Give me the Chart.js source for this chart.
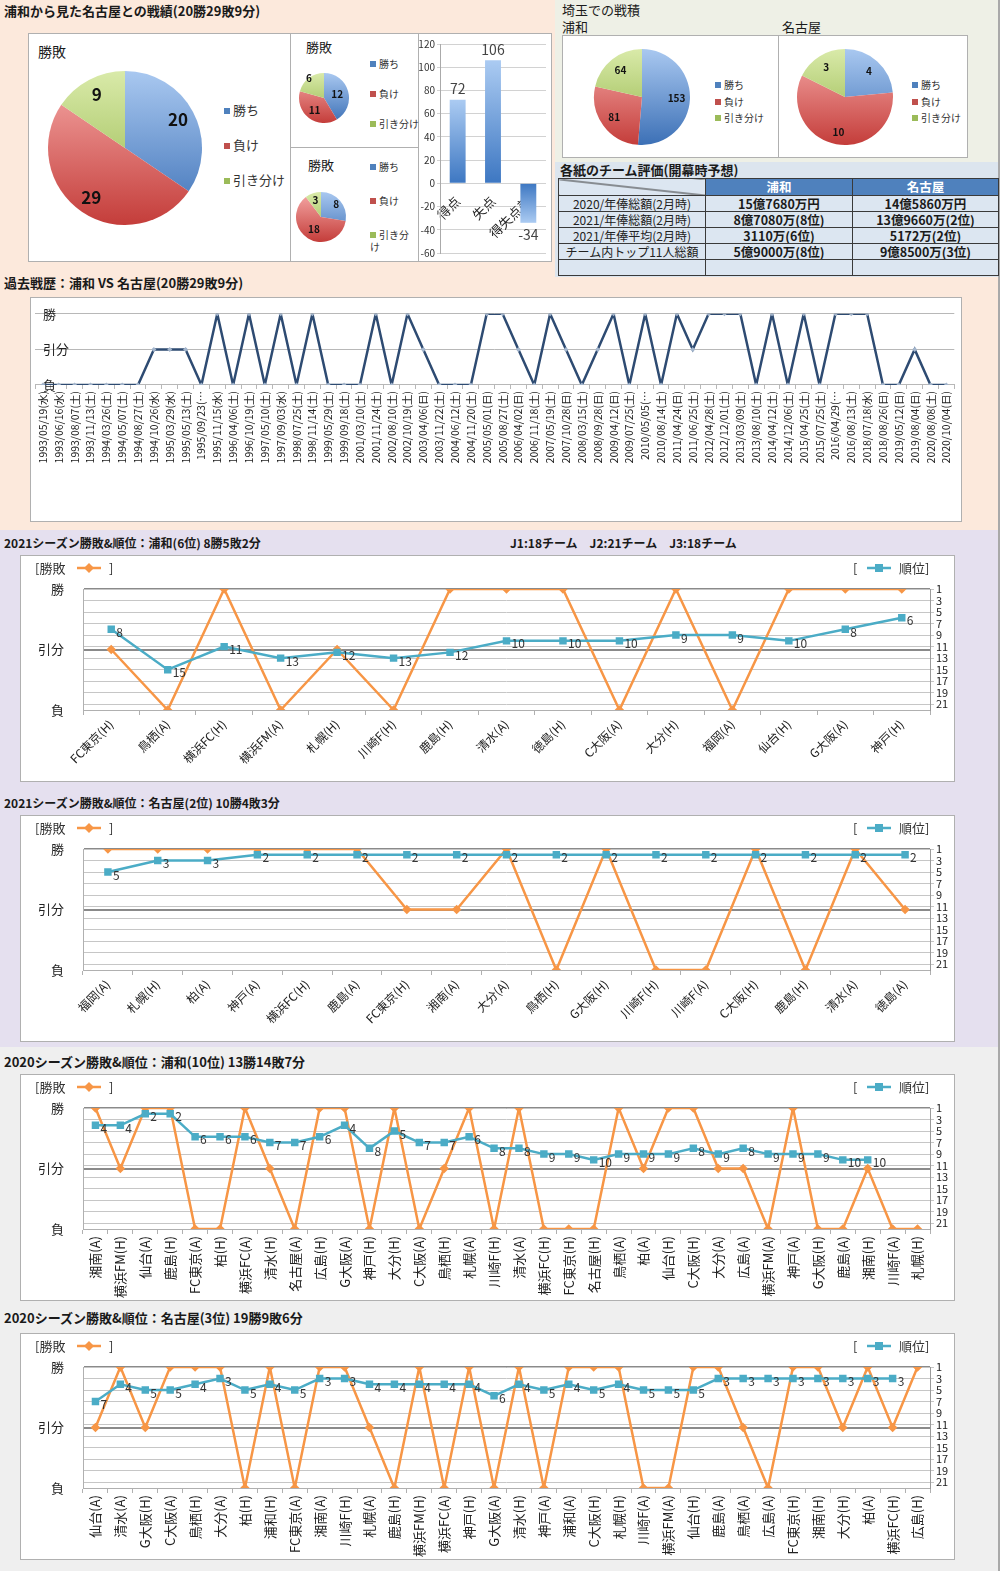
<!DOCTYPE html>
<html lang="ja">
<head>
<meta charset="utf-8">
<title>浦和 vs 名古屋 戦績</title>
<script src="https://cdn.jsdelivr.net/npm/chart.js@4.4.1/dist/chart.umd.min.js"></script>
<style>
body{margin:0;width:1000px;height:1571px;position:relative;overflow:hidden;font-family:"Noto Sans CJK JP",sans-serif;color:#1a1a1a;}
.sec{position:absolute;left:0;width:998px;border-right:2px solid #a9a9a9;}
.box{position:absolute;background:#fff;border:1px solid #b0b0b0;box-sizing:border-box;}
canvas{position:absolute;}
.t{position:absolute;white-space:pre;line-height:16px;font-size:13px;}
.b{font-weight:bold;}
.lg{position:absolute;white-space:nowrap;font-size:10px;line-height:12px;color:#333;}
.lg i{display:inline-block;width:6px;height:6px;margin-right:3px;vertical-align:1px;}
table{position:absolute;border-collapse:collapse;font-size:12.5px;table-layout:fixed;}
td{border:1px solid #3a3a3a;text-align:center;padding:0;line-height:14px;height:15px;background:#dce6f1;white-space:nowrap;overflow:hidden;}
td.n{font-size:12px;color:#222;}
td.v{font-weight:bold;}
tr.h td{background:#4f81bd;color:#fff;font-weight:bold;height:16px;}
tr.h td.diag{background:#dce6f1 linear-gradient(to top right,transparent calc(50% - 1px),#333 50%,transparent calc(50% + 1px));}
</style>
</head>
<body>
<div class="sec" style="top:0;height:530px;background:#fce9dc;"></div>
<div style="position:absolute;left:555px;top:0;width:443px;height:162px;background:#eef0e6;"></div>
<div style="position:absolute;left:555px;top:162px;width:443px;height:115px;background:#dce5ee;"></div>
<div class="sec" style="top:530px;height:517px;background:#e5e0ef;"></div>
<div class="sec" style="top:1047px;height:524px;background:#efefef;"></div>

<div class="t b" style="left:4px;top:3px;">浦和から見た名古屋との戦績(20勝29敗9分)</div>
<div class="box" style="left:28px;top:33px;width:263px;height:229px;"></div>
<div class="box" style="left:290px;top:33px;width:129px;height:115px;"></div>
<div class="box" style="left:290px;top:147px;width:129px;height:115px;"></div>
<div class="box" style="left:418px;top:33px;width:134px;height:229px;"></div>
<div class="t" style="left:38px;top:43px;font-size:14px;">勝敗</div>
<div class="t" style="left:306px;top:39px;">勝敗</div>
<div class="t" style="left:308px;top:157px;">勝敗</div>

<div class="t" style="left:562px;top:2px;">埼玉での戦積</div>
<div class="t" style="left:562px;top:19px;">浦和</div>
<div class="t" style="left:782px;top:19px;">名古屋</div>
<div class="box" style="left:562px;top:35px;width:217px;height:123px;"></div>
<div class="box" style="left:778px;top:35px;width:190px;height:123px;"></div>
<div class="t b" style="left:560px;top:162px;">各紙のチーム評価(開幕時予想)</div>

<div class="t b" style="left:4px;top:275px;">過去戦歴：浦和 VS 名古屋(20勝29敗9分)</div>
<div class="box" style="left:30px;top:297px;width:932px;height:225px;"></div>

<div class="t b" style="left:4px;top:535px;font-size:12px;">2021シーズン勝敗&amp;順位：浦和(6位) 8勝5敗2分</div>
<div class="t b" style="left:510px;top:535px;font-size:12px;">J1:18チーム　J2:21チーム　J3:18チーム</div>
<div class="box" style="left:20px;top:555px;width:935px;height:227px;"></div>
<div class="t b" style="left:4px;top:795px;font-size:12px;">2021シーズン勝敗&amp;順位：名古屋(2位) 10勝4敗3分</div>
<div class="box" style="left:20px;top:815px;width:935px;height:227px;"></div>
<div class="t b" style="left:4px;top:1054px;">2020シーズン勝敗&amp;順位：浦和(10位) 13勝14敗7分</div>
<div class="box" style="left:20px;top:1074px;width:935px;height:227px;"></div>
<div class="t b" style="left:4px;top:1310px;">2020シーズン勝敗&amp;順位：名古屋(3位) 19勝9敗6分</div>
<div class="box" style="left:20px;top:1333px;width:935px;height:227px;"></div>

<script>
// 勝敗: 2 = 勝, 1 = 引分, 0 = 負
const resultNames = ['負', '引分', '勝'];
const rankTicks = [1, 3, 5, 7, 9, 11, 13, 15, 17, 19, 21];

// 通算 / 埼玉 の円グラフ
const pieLabels = ['勝ち', '負け', '引き分け'];
const totalRecord = [20, 29, 9];
const recordSmallA = [12, 11, 6];
const recordSmallB = [8, 18, 3];
const saitamaUrawa = [153, 81, 64];
const saitamaNagoya = [4, 10, 3];

const goalLabels = ['得点', '失点', '得失点差'];
const goalValues = [72, 106, -34];

// 年俸の表
const tableHead = ['浦和', '名古屋'];
const tableRowNames = ['2020/年俸総額(2月時)', '2021/年俸総額(2月時)', '2021/年俸平均(2月時)', 'チーム内トップ11人総額', ''];
const urawaMoney = ['15億7680万円', '8億7080万(8位)', '3110万(6位)', '5億9000万(8位)', ''];
const nagoyaMoney = ['14億5860万円', '13億9660万(2位)', '5172万(2位)', '9億8500万(3位)', ''];

// 過去戦歴
const histDates = ['1993/05/19(水)', '1993/06/16(水)', '1993/08/07(土)', '1993/11/13(土)', '1994/03/26(土)', '1994/05/07(土)', '1994/08/27(土)', '1994/10/26(水)', '1995/03/29(水)', '1995/05/13(土)', '1995/09/23(…', '1995/11/15(水)', '1996/04/06(土)', '1996/10/19(土)', '1997/05/10(土)', '1997/09/03(水)', '1998/07/25(土)', '1998/11/14(土)', '1999/05/29(土)', '1999/09/18(土)', '2001/03/10(土)', '2001/11/24(土)', '2002/08/10(土)', '2002/10/19(土)', '2003/04/06(日)', '2003/11/22(土)', '2004/06/12(土)', '2004/11/20(土)', '2005/05/01(日)',
  '2005/08/27(土)', '2006/04/02(日)', '2006/11/18(土)', '2007/05/19(土)', '2007/10/28(日)', '2008/03/15(土)', '2008/09/28(日)', '2009/04/12(日)', '2009/07/25(土)', '2010/05/05(…', '2010/08/14(土)', '2011/04/24(日)', '2011/06/25(土)', '2012/04/28(土)', '2012/12/01(土)', '2013/03/09(土)', '2013/08/10(土)', '2014/04/12(土)', '2014/12/06(土)', '2015/04/25(土)', '2015/07/25(土)', '2016/04/29(…', '2016/08/13(土)', '2018/07/18(水)', '2018/08/26(日)', '2019/05/12(日)', '2019/08/04(日)', '2020/08/08(土)', '2020/10/04(日)'];
const histResults = [0, 0, 0, 0, 0, 0, 0, 1, 1, 1, 0, 2, 0, 2, 0, 2, 0, 2, 0, 0, 0, 2, 0, 2, 1, 0, 0, 0, 2,
  2, 1, 0, 2, 1, 0, 1, 2, 0, 2, 0, 2, 1, 2, 2, 2, 0, 2, 0, 2, 0, 2, 2, 2, 0, 0, 1, 0, 0];

// 2021 浦和
const urawa21Opp = ['FC東京(H)', '鳥栖(A)', '横浜FC(H)', '横浜FM(A)', '札幌(H)', '川崎F(H)', '鹿島(H)', '清水(A)', '徳島(H)', 'C大阪(A)', '大分(H)', '福岡(A)', '仙台(H)', 'G大阪(A)', '神戸(H)'];
const urawa21Res = [1, 0, 2, 0, 1, 0, 2, 2, 2, 0, 2, 0, 2, 2, 2];
const urawa21Rank = [8, 15, 11, 13, 12, 13, 12, 10, 10, 10, 9, 9, 10, 8, 6];

// 2021 名古屋
const nagoya21Opp = ['福岡(A)', '札幌(H)', '柏(A)', '神戸(A)', '横浜FC(H)', '鹿島(A)', 'FC東京(H)', '湘南(A)', '大分(A)', '鳥栖(H)', 'G大阪(H)', '川崎F(H)', '川崎F(A)', 'C大阪(H)', '鹿島(H)', '清水(A)', '徳島(A)'];
const nagoya21Res = [2, 2, 2, 2, 2, 2, 1, 1, 2, 0, 2, 0, 0, 2, 0, 2, 1];
const nagoya21Rank = [5, 3, 3, 2, 2, 2, 2, 2, 2, 2, 2, 2, 2, 2, 2, 2, 2];

// 2020 浦和
const urawa20Opp = ['湘南(A)', '横浜FM(H)', '仙台(A)', '鹿島(H)', 'FC東京(A)', '柏(H)', '横浜FC(A)', '清水(H)', '名古屋(A)', '広島(H)', 'G大阪(A)', '神戸(H)', '大分(H)', 'C大阪(A)', '鳥栖(H)', '札幌(A)', '川崎F(H)', '清水(A)', '横浜FC(H)', 'FC東京(H)', '名古屋(H)', '鳥栖(A)', '柏(A)', '仙台(H)', 'C大阪(H)', '大分(A)', '広島(A)', '横浜FM(A)', '神戸(A)', 'G大阪(H)', '鹿島(A)', '湘南(H)', '川崎F(A)', '札幌(H)'];
const urawa20Res = [2, 1, 2, 2, 0, 0, 2, 1, 0, 2, 2, 0, 2, 0, 1, 2, 0, 2, 0, 0, 0, 2, 1, 2, 2, 1, 1, 0, 2, 0, 0, 1, 0, 0];
const urawa20Rank = [4, 4, 2, 2, 6, 6, 6, 7, 7, 6, 4, 8, 5, 7, 7, 6, 8, 8, 9, 9, 10, 9, 9, 9, 8, 9, 8, 9, 9, 9, 10, 10, null, null];

// 2020 名古屋
const nagoya20Opp = ['仙台(A)', '清水(A)', 'G大阪(H)', 'C大阪(A)', '鳥栖(H)', '大分(A)', '柏(H)', '浦和(H)', 'FC東京(A)', '湘南(A)', '川崎F(H)', '札幌(A)', '鹿島(H)', '横浜FM(H)', '横浜FC(A)', '神戸(H)', 'G大阪(A)', '清水(H)', '神戸(A)', '浦和(A)', 'C大阪(H)', '札幌(H)', '川崎F(A)', '横浜FM(A)', '仙台(H)', '鹿島(A)', '鳥栖(A)', '広島(A)', 'FC東京(H)', '湘南(H)', '大分(H)', '柏(A)', '横浜FC(H)', '広島(H)'];
const nagoya20Res = [1, 2, 1, 2, 2, 2, 0, 2, 0, 2, 2, 1, 0, 2, 0, 2, 0, 2, 0, 2, 2, 2, 0, 0, 2, 2, 1, 0, 2, 2, 1, 2, 1, 2];
const nagoya20Rank = [7, 4, 5, 5, 4, 3, 5, 4, 5, 3, 3, 4, 4, 4, 4, 4, 6, 4, 5, 4, 5, 4, 5, 5, 5, 3, 3, 3, 3, 3, 3, 3, 3, null];

const FONT = '"Noto Sans CJK JP", sans-serif';
const ORANGE = '#f79646';
const AQUA = '#4bacc6';
const pieSquare = ['#4f81bd', '#c0504d', '#9bbb59'];
const pieLight = ['#a9c8f0', '#f6aaa8', '#d9eaa9'];
const pieDark = ['#3c70b6', '#c43d3a', '#90b345'];

Chart.defaults.font.family = FONT;
Chart.defaults.animation = false;
Chart.defaults.responsive = false;
Chart.defaults.plugins.legend.display = false;
Chart.defaults.plugins.tooltip.enabled = false;

function addCanvas(left, top, w, h) {
    const c = document.createElement('canvas');
    c.width = w;
    c.height = h;
    c.style.left = left + 'px';
    c.style.top = top + 'px';
    c.style.width = w + 'px';
    c.style.height = h + 'px';
    document.body.appendChild(c);
    return c;
}

function addLegend(x, y, size, gap, wrapLast) {
    pieLabels.forEach((name, i) => {
        const d = document.createElement('div');
        d.className = 'lg';
        d.style.left = x + 'px';
        d.style.top = (y + i * gap - 6) + 'px';
        d.style.fontSize = size + 'px';
        d.innerHTML = '<i style="background:' + pieSquare[i] + '"></i>' + name;
        if (wrapLast && i === 2) {
            d.style.whiteSpace = 'normal';
            d.style.width = '42px';
        }
        document.body.appendChild(d);
    });
}

const pieValues = {
    id: 'pieValues',
    afterDatasetsDraw(chart, args, opts) {
        const c = chart.ctx;
        const meta = chart.getDatasetMeta(0);
        c.save();
        c.font = 'bold ' + opts.size + 'px ' + FONT;
        c.fillStyle = '#111';
        c.textAlign = 'center';
        c.textBaseline = 'middle';
        meta.data.forEach((arc, i) => {
            const mid = (arc.startAngle + arc.endAngle) / 2;
            const f = Array.isArray(opts.factor) ? opts.factor[i] : opts.factor;
            const r = arc.outerRadius * f;
            c.fillText(String(chart.data.datasets[0].data[i]), arc.x + Math.cos(mid) * r, arc.y + Math.sin(mid) * r);
        });
        c.restore();
    }
};

function pie(cx, cy, r, values, size, factor) {
    const s = r * 2 + 4;
    const cv = addCanvas(cx - s / 2, cy - s / 2, s, s);
    new Chart(cv, {
        type: 'pie',
        data: {
            labels: pieLabels,
            datasets: [{
                data: values,
                borderWidth: 0,
                backgroundColor: ctx => {
                    const area = ctx.chart.chartArea;
                    if (!area) return pieSquare[ctx.dataIndex];
                    const g = ctx.chart.ctx.createLinearGradient(0, area.top, 0, area.bottom);
                    g.addColorStop(0, pieLight[ctx.dataIndex]);
                    g.addColorStop(1, pieDark[ctx.dataIndex]);
                    return g;
                },
            }],
        },
        options: {
            layout: { padding: 2 },
            plugins: { pieValues: { size: size, factor: factor } },
        },
        plugins: [pieValues],
    });
}

// 円グラフ
pie(125, 148, 77, totalRecord, 17, 0.78);
addLegend(224, 110, 13, 35, false);
pie(324, 98, 25, recordSmallA, 10, [0.55, 0.62, 1.0]);
addLegend(370, 64, 10, 30, false);
pie(321, 217, 25, recordSmallB, 10, [0.8, 0.55, 0.7]);
addLegend(370, 167, 10, 34, true);
pie(642, 97, 48, saitamaUrawa, 10, 0.72);
addLegend(715, 85, 10, 16.5, false);
pie(845, 97, 48, saitamaNagoya, 10, 0.74);
addLegend(912, 85, 10, 16.5, false);

// 得点・失点
const barValues = {
    id: 'barValues',
    afterDatasetsDraw(chart) {
        const c = chart.ctx;
        const meta = chart.getDatasetMeta(0);
        c.save();
        c.font = '14px ' + FONT;
        c.fillStyle = '#444';
        c.textAlign = 'center';
        c.textBaseline = 'middle';
        meta.data.forEach((bar, i) => {
            const v = chart.data.datasets[0].data[i];
            c.fillText(String(v), bar.x, v >= 0 ? bar.y - 11 : bar.y + 12);
        });
        c.restore();
    }
};

new Chart(addCanvas(419, 34, 132, 227), {
    type: 'bar',
    data: {
        labels: goalLabels,
        datasets: [{
            data: goalValues,
            barPercentage: 0.45,
            categoryPercentage: 1,
            backgroundColor: ctx => {
                const chart = ctx.chart;
                if (!chart.chartArea || !chart.scales.y) return '#5b8fd0';
                const ys = chart.scales.y;
                const g = chart.ctx.createLinearGradient(0, ys.getPixelForValue(ctx.raw), 0, ys.getPixelForValue(0));
                g.addColorStop(0, '#abcbf2');
                g.addColorStop(1, '#3d77c2');
                return g;
            },
        }],
    },
    options: {
        layout: { padding: { top: 10, bottom: 7, right: 5 } },
        scales: {
            x: {
                position: { y: 0 },
                grid: { display: false },
                border: { display: false },
                ticks: { minRotation: 45, maxRotation: 45, font: { size: 13 }, color: '#222', padding: 2 },
            },
            y: {
                min: -60,
                max: 120,
                ticks: { stepSize: 20, font: { size: 10 }, color: '#333', padding: 2 },
                grid: { color: '#d2d2d2', tickLength: 3 },
                border: { color: '#aaa' },
                afterFit: s => { s.width = 21; },
            },
        },
    },
    plugins: [barValues],
});

// 表
(function () {
    const t = document.createElement('table');
    t.style.left = '558px';
    t.style.top = '178px';
    t.style.width = '440px';
    let html = '<colgroup><col style="width:147px"><col style="width:147px"><col style="width:146px"></colgroup>';
    html += '<tr class="h"><td class="diag"></td><td>' + tableHead[0] + '</td><td>' + tableHead[1] + '</td></tr>';
    tableRowNames.forEach((name, i) => {
        html += '<tr><td class="n">' + name + '</td><td class="v">' + urawaMoney[i] + '</td><td class="v">' + nagoyaMoney[i] + '</td></tr>';
    });
    t.innerHTML = html;
    document.body.appendChild(t);
})();

// 過去戦歴
new Chart(addCanvas(31, 298, 930, 223), {
    type: 'line',
    data: {
        labels: histDates,
        datasets: [{
            data: histResults,
            borderColor: '#2e4b72',
            borderWidth: 2.5,
            pointStyle: 'rectRot',
            pointRadius: 2.5,
            pointBackgroundColor: '#a3b5cc',
            pointBorderWidth: 0,
        }],
    },
    options: {
        layout: { padding: { top: 12 } },
        scales: {
            x: {
                offset: true,
                ticks: { autoSkip: false, minRotation: 90, maxRotation: 90, font: { size: 10.5 }, color: '#222', padding: 2 },
                grid: { drawOnChartArea: false, offset: true, tickLength: 4, color: '#b8b8b8' },
                border: { color: '#b8b8b8' },
                afterFit: s => { s.height = 223 - 87; },
            },
            y: {
                min: 0,
                max: 2,
                ticks: { stepSize: 1, mirror: true, padding: 8, font: { size: 13 }, color: '#222', callback: v => resultNames[v] },
                grid: { color: '#b8b8b8', drawTicks: false },
                border: { display: false },
                afterFit: s => { s.width = 0; },
            },
        },
    },
});

// 順位の数字
const rankValues = {
    id: 'rankValues',
    afterDatasetsDraw(chart) {
        const c = chart.ctx;
        const meta = chart.getDatasetMeta(0);
        const data = chart.data.datasets[0].data;
        c.save();
        c.font = '12px ' + FONT;
        c.fillStyle = '#333';
        c.textBaseline = 'middle';
        meta.data.forEach((pt, i) => {
            if (data[i] == null) return;
            c.fillText(String(data[i]), pt.x + 5, pt.y + 3);
        });
        c.restore();
    }
};

// [勝敗 ◆ ]   [ ■ 順位]
const miniLegend = {
    id: 'miniLegend',
    afterDraw(chart) {
        const c = chart.ctx;
        const y = 12;
        c.save();
        c.font = '13px ' + FONT;
        c.fillStyle = '#333';
        c.textBaseline = 'middle';
        c.fillText('[勝敗', 14, y);
        c.fillText(']', 88, y);
        c.fillText('[', 832, y);
        c.fillText('順位]', 878, y);
        c.lineWidth = 2.5;
        c.strokeStyle = ORANGE;
        c.beginPath(); c.moveTo(56, y); c.lineTo(80, y); c.stroke();
        c.fillStyle = ORANGE;
        c.beginPath(); c.moveTo(68, y - 5); c.lineTo(73, y); c.lineTo(68, y + 5); c.lineTo(63, y); c.closePath(); c.fill();
        c.strokeStyle = AQUA;
        c.beginPath(); c.moveTo(846, y); c.lineTo(870, y); c.stroke();
        c.fillStyle = AQUA;
        c.fillRect(854, y - 4, 8, 8);
        c.restore();
    }
};

function seasonChart(boxTop, opp, res, rank, rot, labelSize) {
    const W = 933, H = 225;
    new Chart(addCanvas(21, boxTop + 1, W, H), {
        type: 'line',
        data: {
            labels: opp,
            datasets: [
                { label: '順位', data: rank, yAxisID: 'y2', order: 0, borderColor: AQUA, backgroundColor: AQUA, borderWidth: 2.5, pointStyle: 'rect', pointRadius: 3.5 },
                { label: '勝敗', data: res, yAxisID: 'y', order: 1, borderColor: ORANGE, backgroundColor: ORANGE, borderWidth: 2.5, pointStyle: 'rectRot', pointRadius: 3 },
            ],
        },
        options: {
            layout: { padding: { top: 33, left: 0, right: 0, bottom: 0 } },
            scales: {
                x: {
                    offset: true,
                    grid: { drawOnChartArea: false, offset: true, tickLength: 5, color: '#b0b0b0' },
                    border: { color: '#b0b0b0' },
                    ticks: { autoSkip: false, minRotation: rot, maxRotation: rot, font: { size: labelSize }, color: '#222', padding: 2 },
                    afterFit: s => { s.height = H - 154; },
                },
                y: {
                    min: 0,
                    max: 2,
                    ticks: { stepSize: 1, font: { size: 13 }, color: '#222', padding: 19, callback: v => resultNames[v] },
                    grid: { color: ctx => ctx.tick.value === 0 ? '#b0b0b0' : '#8a8a8a', lineWidth: ctx => ctx.tick.value === 0 ? 1 : 2, drawTicks: false },
                    border: { color: '#b0b0b0' },
                    afterFit: s => { s.width = 62; },
                },
                y2: {
                    position: 'right',
                    reverse: true,
                    min: 1,
                    max: 22,
                    afterBuildTicks: s => { s.ticks = rankTicks.map(v => ({ value: v })); },
                    ticks: { autoSkip: false, font: { size: 11 }, color: '#222', padding: 2 },
                    grid: { color: '#c6c6c6', tickLength: 4, drawOnChartArea: true },
                    border: { color: '#9a9a9a' },
                    afterFit: s => { s.width = W - 909; },
                },
            },
        },
        plugins: [rankValues, miniLegend],
    });
}

seasonChart(555, urawa21Opp, urawa21Res, urawa21Rank, 45, 12);
seasonChart(815, nagoya21Opp, nagoya21Res, nagoya21Rank, 45, 12);
seasonChart(1074, urawa20Opp, urawa20Res, urawa20Rank, 90, 13);
seasonChart(1333, nagoya20Opp, nagoya20Res, nagoya20Rank, 90, 13);
</script>
</body>
</html>
